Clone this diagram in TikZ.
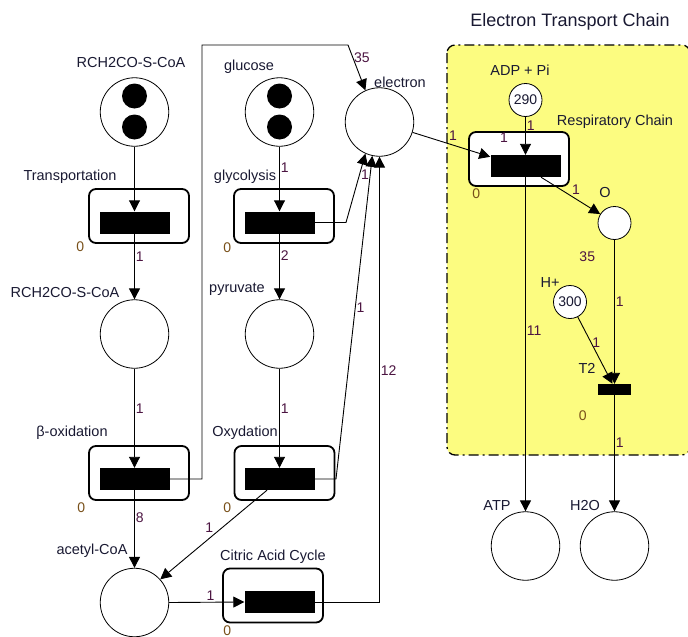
\documentclass[tikz,border=0pt]{standalone}
\usepackage{fontspec}
\setmainfont{Liberation Sans}
\usepackage{tikz}
\usetikzlibrary{arrows.meta, positioning}
\definecolor{etcyellow}{RGB}{252,252,128}
\definecolor{weightcol}{RGB}{75,20,65}
\definecolor{zerocol}{RGB}{120,80,25}
\definecolor{labelcol}{RGB}{25,25,50}
\tikzset{
  place/.style      = {circle, draw, line width=0.8pt, minimum size=68.5pt,
                       inner sep=0pt, fill=white},
  smallplace/.style = {circle, draw, line width=0.8pt, minimum size=33pt,
                       inner sep=0pt, fill=white, text=labelcol,
                       font=\fontsize{14}{16}\selectfont},
  tokendot/.style   = {circle, fill=black, minimum size=25pt, inner sep=0pt},
  tbox/.style       = {draw, rounded corners=7pt, line width=1.8pt,
                       minimum width=100pt, minimum height=54pt, fill=white},
  tbar/.style       = {fill=black, minimum width=70pt, minimum height=22pt,
                       inner sep=0pt},
  smallbar/.style   = {fill=black, minimum width=33pt, minimum height=11pt,
                       inner sep=0pt},
  plabel/.style     = {font=\fontsize{14.5}{16}\selectfont, text=labelcol,
                       inner sep=0pt},
  weight/.style     = {font=\fontsize{14}{15}\selectfont, text=weightcol,
                       inner sep=1pt},
  tzero/.style      = {font=\fontsize{14}{15}\selectfont, text=zerocol,
                       inner sep=0pt},
  arc/.style        = {-{Triangle[length=11pt, width=11pt]}, line width=0.9pt},
  region/.style     = {draw, fill=etcyellow, rounded corners=8pt, line width=1.3pt,
                       dash pattern=on 10pt off 4pt on 2pt off 4pt},
}

\begin{document}
\begin{tikzpicture}[x=1pt, y=-1pt]
    \useasboundingbox (0,0) rectangle (688,637);

    % electron transport chain
    \draw[region] (447,45) rectangle (690,455);
    \node[plabel, font=\fontsize{18}{20}\selectfont] (etctitle) at (570,22) {Electron Transport Chain};

    % places
    \node[place] (fa)   at (134.5,112) {};
    \node[place] (glc)  at (279.5,112) {};
    \node[place] (ele)  at (379.5,122) {};
    \node[place] (fa2)  at (134.5,334) {};
    \node[place] (pyr)  at (279.5,334) {};
    \node[place] (acoa) at (134.5,602.5) {};
    \node[place] (atp)  at (525.5,546) {};
    \node[place] (hto)  at (614.5,546) {};
    \node[smallplace] (adp) at (525.5,100) {290};
    \node[smallplace] (oxy) at (614.5,223) {};
    \node[smallplace] (hp)  at (570,302) {300};

    \node[tokendot] (fatok1)  at (134.5,96)  {};
    \node[tokendot] (fatok2)  at (134.5,127) {};
    \node[tokendot] (glctok1) at (279.5,96)  {};
    \node[tokendot] (glctok2) at (279.5,127) {};

    % transitions
    \node[tbox] (trpbox) at (139,216)   {};
    \node[tbar] (trp)    at (134.5,222.5) {};
    \node[tbox] (glybox) at (284,216)   {};
    \node[tbar] (gly)    at (279.5,222.5) {};
    \node[tbox] (betbox) at (139,473)   {};
    \node[tbar] (bet)    at (134.5,479) {};
    \node[tbox] (oxdbox) at (284.5,473) {};
    \node[tbar] (oxd)    at (279.5,479) {};
    \node[tbox] (citbox) at (273,595.5) {};
    \node[tbar] (cit)    at (279.5,602) {};
    \node[tbox] (rcbox)  at (519,159)   {};
    \node[tbar] (rc)     at (525.5,166) {};
    \node[smallbar] (t2) at (614.5,389.5) {};

    % names
    \node[plabel] (falab)   at (131,63)  {RCH2CO-S-CoA};
    \node[plabel] (glclab)  at (249,67)  {glucose};
    \node[plabel] (elelab)  at (400,82)  {electron};
    \node[plabel] (trplab)  at (70,177)  {Transportation};
    \node[plabel] (glylab)  at (245,177) {glycolysis};
    \node[plabel] (fa2lab)  at (65,293)  {RCH2CO-S-CoA};
    \node[plabel] (pyrlab)  at (237,289) {pyruvate};
    \node[plabel] (betlab)  at (72,433)  {β-oxidation};
    \node[plabel] (oxdlab)  at (245,433) {Oxydation};
    \node[plabel] (acoalab) at (92,551)  {acetyl-CoA};
    \node[plabel] (citlab)  at (273,557) {Citric Acid Cycle};
    \node[plabel] (adplab)  at (520,70)  {ADP + Pi};
    \node[plabel] (rclab)   at (615,122) {Respiratory Chain};
    \node[plabel] (oxylab)  at (605,193) {O};
    \node[plabel] (hplab)   at (550,283) {H+};
    \node[plabel] (t2lab)   at (587,368) {T2};
    \node[plabel] (atplab)  at (497,506) {ATP};
    \node[plabel] (htolab)  at (585,506) {H2O};

    \node[tzero] (trp0) at ([xshift=-19pt, yshift=-13pt]trp.south west) {0};
    \node[tzero] (gly0) at ([xshift=-17pt, yshift=-14pt]gly.south west) {0};
    \node[tzero] (bet0) at ([xshift=-18pt, yshift=-17pt]bet.south west) {0};
    \node[tzero] (oxd0) at ([xshift=-17pt, yshift=-17pt]oxd.south west) {0};
    \node[tzero] (cit0) at ([xshift=-17pt, yshift=-17pt]cit.south west) {0};
    \node[tzero] (rc0)  at ([xshift=-14pt, yshift=-16pt]rc.south west) {0};
    \node[tzero] (t20)  at ([xshift=-15pt, yshift=-20pt]t2.south west) {0};

    % arcs
    \coordinate (betup)   at (202,45);
    \coordinate (betturn) at (348,45);
    \coordinate (glyout)  at (346,222.5);
    \coordinate (oxdout)  at (336,479);

    \draw[arc] (fa.south)  -- (trp.north);
    \draw[arc] (trp.south) -- node[weight, pos=.35, right] {1} (fa2.north);
    \draw[arc] (fa2.south) -- node[weight, pos=.4, right] {1} (bet.north);
    \draw[arc] (bet.south) -- node[weight, pos=.36, right] {8} (acoa.north);
    \draw[arc] (bet.east) -| (betup) -- (betturn) -- node[weight, pos=.27, right] {35} (ele.114);
    \draw[arc] (glc.south) -- node[weight, pos=.32, right] {1} (gly.north);
    \draw[arc] (gly.south) -- node[weight, pos=.34, right] {2} (pyr.north);
    \draw[arc] (gly.east) -- (glyout) -- node[weight, pos=.7, right] {1} (ele.246);
    \draw[arc] (pyr.south) -- node[weight, pos=.4, right] {1} (oxd.north);
    \draw[arc] (oxd.east) -- (oxdout) -- node[weight, pos=.53, right] {1} (ele.258);
    \draw[arc] ([xshift=-12.5pt]oxd.south) -- node[weight, pos=.49, above left] {1} (acoa.42);
    \draw[arc] (acoa.east) -- node[weight, pos=.55, above] {1} (cit.west);
    \draw[arc] (cit.east) -| node[weight, pos=.76, right] {12} (ele.south);

    \draw[arc] (ele) -- node[weight, pos=.52, above=3pt] {1} ([yshift=-2pt]rc.north west);
    \node[weight] (rcin) at (504,138) {1};
    \draw[arc] (adp.south) -- node[weight, pos=.23, right] {1} (rc.north);
    \draw[arc] (rc.south) -- node[weight, pos=.46, right] {11} (atp.north);
    \draw[arc] ([xshift=15.5pt]rc.south) -- node[weight, pos=.5, above right] {1} (oxy);
    \draw[arc] (oxy.south) -- node[weight, pos=.12, left=18pt] {35}
                              node[weight, pos=.43, right] {1} (t2.north);
    \draw[arc] (hp) -- node[weight, pos=.38, right] {1} ([xshift=-2pt]t2.north);
    \draw[arc] (t2.south) -- node[weight, pos=.41, right] {1} (hto.north);
\end{tikzpicture}
\end{document}
